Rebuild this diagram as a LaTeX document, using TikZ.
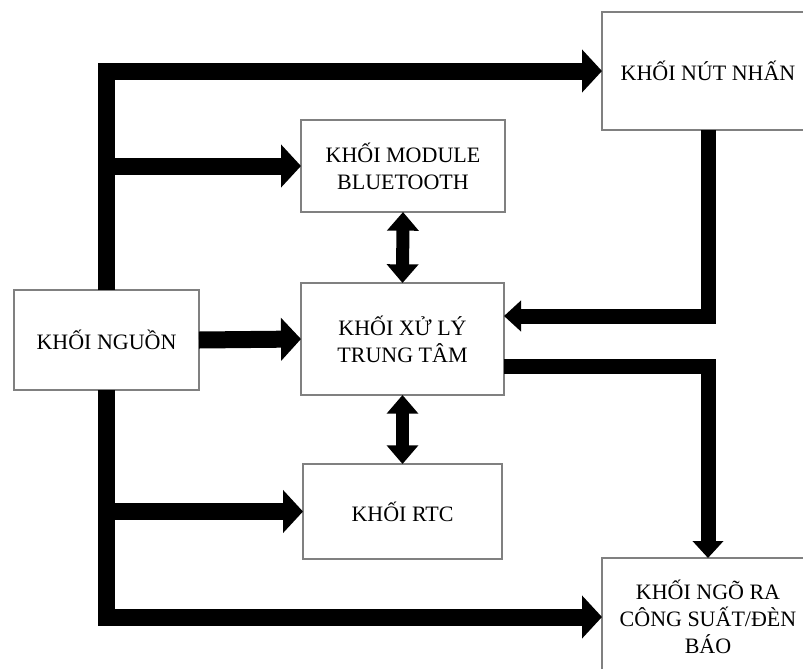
\documentclass[tikz,border=0pt]{standalone}
\usepackage{fontspec}
\setmainfont{Liberation Serif}
\usetikzlibrary{arrows.meta,calc}
\definecolor{boxgray}{RGB}{128,128,128}
\begin{document}
\begin{tikzpicture}[x=0.75pt,y=-0.75pt,
  blk/.style={draw=boxgray, line width=0.9pt, fill=white, inner sep=0pt, outer sep=0pt, align=center, font=\fontsize{16.5pt}{20.25pt}\selectfont},
  power/.style={line width=12.75pt, -{Triangle[width=31.5pt,length=15pt]}},
  sig/.style={line width=11.25pt, -{Triangle[width=22.5pt,length=12.75pt]}},
  bidir/.style={line width=9.75pt, {Triangle[width=23pt,length=14pt]}-{Triangle[width=23pt,length=14pt]}}]
\clip (0,0) rectangle (803,668);
\fill[white] (0,0) rectangle (803,668);
% blocks
\node[blk, minimum width=159pt, minimum height=88.5pt] (nut) at (708,71) {KHỐI NÚT NHẤN};
\node[blk, minimum width=153pt, minimum height=69pt] (bt) at (403,166) {KHỐI MODULE\\BLUETOOTH};
\node[blk, minimum width=138.75pt, minimum height=75pt] (nguon) at (106.5,340) {KHỐI NGUỒN};
\node[blk, minimum width=152.25pt, minimum height=84pt] (xl) at (402.5,339) {KHỐI XỬ LÝ\\TRUNG TÂM};
\node[blk, minimum width=149.25pt, minimum height=71.25pt] (rtc) at (402.5,511.5) {KHỐI RTC};
\node[blk, minimum width=159pt, minimum height=88.5pt] (ngo) at (708,617) {KHỐI NGÕ RA\\CÔNG SUẤT/ĐÈN\\BÁO};
% power distribution
\draw[power] (nguon.north) |- (nut.west);
\draw[power] (nguon.north |- bt.west) -- (bt.west);
\draw[power] (nguon.east) -- (xl.west);
\draw[power] (nguon.south) |- (ngo.west);
\draw[power] (nguon.south |- rtc.west) -- (rtc.west);
% signals
\draw[sig] (nut.south) |- ([yshift=17.25pt]xl.east);
\draw[sig] ([yshift=-20.25pt]xl.east) -| (ngo.north);
\draw[bidir] (bt.south) -- (xl.north);
\draw[bidir] (xl.south) -- (rtc.north);
\end{tikzpicture}
\end{document}
